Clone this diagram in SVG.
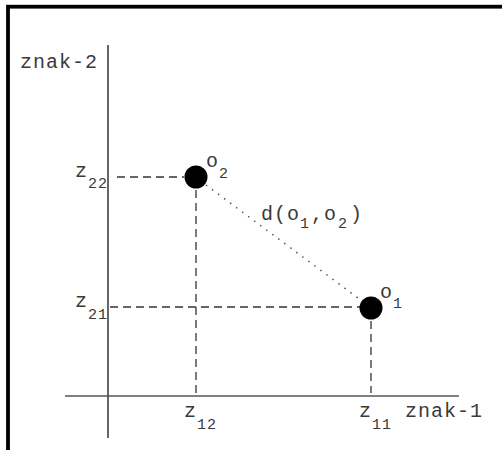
<svg xmlns="http://www.w3.org/2000/svg" width="502" height="450" viewBox="0 0 502 450">
<style>
.t{font-family:"Liberation Mono","DejaVu Sans Mono",monospace;font-size:20px;letter-spacing:1px;fill:#3a3a3a}
.s{font-size:15px}
.dash{stroke:#333;stroke-width:1.3;stroke-dasharray:8 5;fill:none}
.pt{fill:#000}
</style>
<rect x="0" y="0" width="502" height="450" fill="#fff"/>
<rect x="8" y="6.7" width="500" height="450" fill="none" stroke="#000" stroke-width="3.8"/>
<g id="axes">
<line x1="108" y1="45" x2="108" y2="438" stroke="#000" stroke-width="1.2"/>
<line x1="65" y1="396" x2="459" y2="396" stroke="#555" stroke-width="1.6"/>
<text class="t" x="20" y="68">znak-2</text>
<text class="t" x="405" y="417">znak-1</text>
</g>
<g id="connectors">
<line class="dash" x1="117" y1="177" x2="184" y2="177"/>
<line class="dash" x1="110" y1="307" x2="360" y2="307"/>
<line class="dash" x1="196" y1="190" x2="196" y2="395"/>
<line class="dash" x1="371" y1="321" x2="371" y2="393"/>
<line x1="206" y1="185" x2="362" y2="301" stroke="#555" stroke-width="1.5" stroke-dasharray="1.5 6"/>
<text class="t" x="261" y="220">d(o<tspan class="s" x="300" y="228">1</tspan><tspan x="311" y="220">,o</tspan><tspan class="s" x="338" y="228">2</tspan><tspan x="350" y="220">)</tspan></text>
</g>
<g id="o2">
<circle class="pt" cx="196" cy="177" r="11.5"/>
<text class="t" x="206" y="167">o<tspan class="s" x="219" y="178">2</tspan></text>
</g>
<g id="o1">
<circle class="pt" cx="371" cy="308" r="11.5"/>
<text class="t" x="380" y="298">o<tspan class="s" x="393" y="308">1</tspan></text>
</g>
<g id="labels">
<text class="t" x="75" y="177">z<tspan class="s" x="88" y="188">22</tspan></text>
<text class="t" x="75" y="307">z<tspan class="s" x="88" y="319">21</tspan></text>
<text class="t" x="184" y="417">z<tspan class="s" x="197" y="429">12</tspan></text>
<text class="t" x="359" y="417">z<tspan class="s" x="372" y="429">11</tspan></text>
</g>
</svg>
